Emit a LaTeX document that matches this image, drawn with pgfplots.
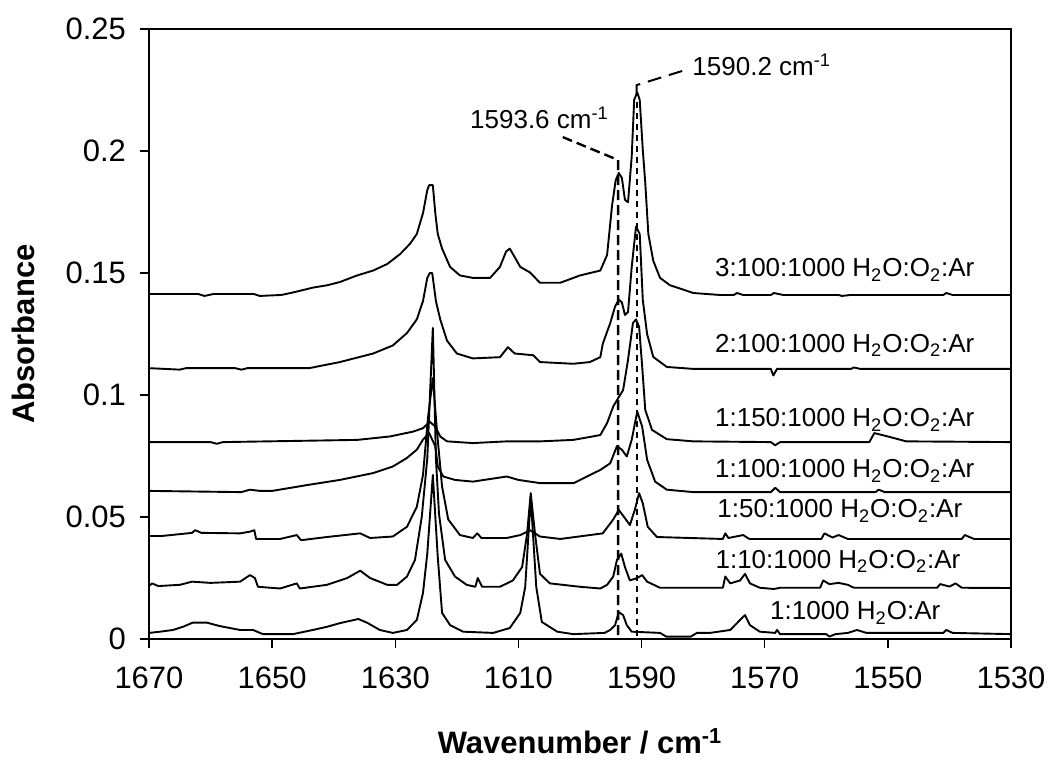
\documentclass[border=0pt]{standalone}
\usepackage{pgfplots}
\pgfplotsset{compat=1.18}
\usepackage{fontspec}
\setmainfont{Liberation Sans}
\begin{document}
\begin{tikzpicture}
\useasboundingbox (-74.5pt,-60.5pt) rectangle (449.5pt,319.5pt);
\begin{axis}[
  at={(0,0)}, anchor=south west,
  scale only axis, width=431pt, height=305pt,
  x dir=reverse, xmin=1530, xmax=1670, ymin=0, ymax=0.25,
  xtick={1530,1550,1570,1590,1610,1630,1650,1670},
  xticklabels={1530,1550,1570,1590,1610,1630,1650,1670},
  ytick={0,0.05,0.1,0.15,0.2,0.25},
  yticklabels={0,0.05,0.1,0.15,0.2,0.25},
  xtick pos=bottom, ytick pos=left,
  tick align=outside, major tick length=4.5pt,
  every tick/.style={black, line width=0.7pt},
  axis line style={line width=0.8pt},
  tick label style={font=\fontsize{15.5}{18}\selectfont},
  xticklabel style={yshift=-6pt},
  yticklabel style={xshift=-3.5pt},
  every axis y label/.style={at={(axis description cs:-0.146,0.5)}, rotate=90, anchor=center, font=\bfseries\fontsize{15.5}{18}\selectfont},
  every axis x label/.style={at={(axis description cs:0.5,-0.1885)}, anchor=base, font=\bfseries\fontsize{15.5}{18}\selectfont},
  xlabel={Wavenumber / cm\textsuperscript{-1}},
  ylabel={Absorbance},
  cycle list={{black, mark=none, solid}},
  every axis plot/.append style={line width=0.95pt, line join=round},
]
% 3:100:1000
\addplot coordinates {(1670,0.1414) (1662,0.1414) (1661,0.1406) (1659.5,0.1414) (1653,0.1414) (1652,0.1406) (1648.5,0.1410) (1647,0.1418) (1645.5,0.1427) (1643.4,0.1440) (1641,0.1450) (1639,0.1463) (1636.2,0.149) (1633.6,0.151) (1631.3,0.1537) (1629.2,0.1578) (1627.6,0.162) (1626.5,0.166) (1625.5,0.1745) (1624.8,0.184) (1624.5,0.186) (1623.9,0.186) (1623.5,0.1745) (1623.1,0.166) (1622.4,0.160) (1621.1,0.1525) (1619.5,0.149) (1617.4,0.148) (1614.6,0.148) (1613,0.1525) (1612,0.1588) (1611.4,0.160) (1610.9,0.1578) (1609.7,0.1525) (1608.1,0.1502) (1606.5,0.146) (1603.2,0.146) (1600,0.149) (1596.7,0.151) (1595.6,0.1574) (1594.8,0.1775) (1594.2,0.188) (1593.7,0.191) (1593.2,0.189) (1592.7,0.180) (1592.2,0.179) (1591.6,0.1977) (1591.2,0.221) (1590.7,0.224) (1590.3,0.221) (1589.8,0.2004) (1589.4,0.187) (1588.9,0.166) (1588.1,0.155) (1587,0.148) (1585.4,0.145) (1581.6,0.1418) (1577.3,0.141) (1575,0.141) (1574.5,0.1418) (1573.5,0.141) (1569,0.141) (1568.5,0.1418) (1567,0.141) (1558,0.141) (1557.5,0.1406) (1556,0.141) (1541,0.141) (1540.5,0.1418) (1539.5,0.141) (1530,0.141)};
% 2:100:1000
\addplot coordinates {(1670,0.111) (1665,0.1104) (1664,0.111) (1656,0.111) (1655,0.1104) (1654,0.111) (1644,0.111) (1639,0.1135) (1633.6,0.117) (1630.4,0.1203) (1628.1,0.1254) (1626.5,0.131) (1625.5,0.1385) (1624.8,0.148) (1624.4,0.150) (1624,0.150) (1623.4,0.1385) (1622.7,0.131) (1621.6,0.1223) (1620,0.117) (1617.4,0.115) (1613,0.1155) (1611.7,0.1196) (1610.6,0.117) (1607.6,0.1163) (1606.5,0.1135) (1601.1,0.1128) (1598.4,0.1135) (1596.7,0.1155) (1596.3,0.121) (1595.1,0.1294) (1594.3,0.1363) (1593.7,0.139) (1593.2,0.138) (1592.7,0.1328) (1592.2,0.134) (1591.6,0.1525) (1590.9,0.169) (1590.3,0.166) (1589.8,0.139) (1589.1,0.125) (1588.1,0.1156) (1585.9,0.1115) (1581.6,0.1107) (1569,0.1107) (1568.6,0.108) (1568,0.1107) (1556,0.1107) (1555.5,0.1113) (1554.5,0.1107) (1530,0.1107)};
% 1:150:1000
\addplot coordinates {(1670,0.0807) (1660,0.0807) (1659,0.0800) (1658,0.0807) (1636.2,0.0816) (1630.9,0.083) (1627.1,0.085) (1625.5,0.0864) (1624.4,0.089) (1623.5,0.0871) (1622.7,0.083) (1621.6,0.081) (1617.4,0.0803) (1611.9,0.081) (1606.5,0.081) (1601.1,0.0816) (1598.4,0.0828) (1596.7,0.0836) (1595.6,0.0885) (1594.6,0.0953) (1593.8,0.0987) (1593,0.102) (1592.2,0.1144) (1591.4,0.1295) (1590.9,0.131) (1590.4,0.128) (1589.9,0.1117) (1589.4,0.0939) (1588.3,0.0857) (1585.9,0.0819) (1581.6,0.081) (1569,0.0807) (1568.3,0.0794) (1567.5,0.0807) (1553,0.0807) (1552.2,0.0844) (1550,0.083) (1547,0.081) (1530,0.0807)};
% 1:100:1000
\addplot coordinates {(1670,0.0607) (1655,0.0602) (1653.6,0.0612) (1652,0.0607) (1650,0.0607) (1644.3,0.0631) (1639,0.0652) (1633.6,0.068) (1630.4,0.0707) (1628.1,0.0742) (1626.5,0.0776) (1625.5,0.0817) (1624.5,0.0844) (1623.5,0.079) (1623.1,0.0707) (1622.2,0.0666) (1620.3,0.0652) (1617.4,0.0645) (1611.9,0.0666) (1610,0.0652) (1606.5,0.0639) (1601,0.0639) (1596.7,0.0693) (1595.1,0.072) (1594,0.079) (1593.2,0.0776) (1592.4,0.0748) (1591.6,0.0817) (1590.7,0.0932) (1589.9,0.087) (1589.1,0.0735) (1587.8,0.0645) (1585.9,0.0612) (1581.6,0.0602) (1569,0.0602) (1568.3,0.0620) (1567.5,0.0602) (1552,0.0602) (1551.5,0.0612) (1550.5,0.0602) (1530,0.0602)};
% 1:50:1000
\addplot coordinates {(1670,0.0422) (1668,0.0422) (1663,0.0435) (1662.5,0.0446) (1661.5,0.0435) (1655.2,0.0433) (1653.6,0.0440) (1652.9,0.0446) (1652.6,0.041) (1648.7,0.041) (1646,0.0426) (1645.3,0.0405) (1641.1,0.0418) (1635.7,0.0433) (1634.1,0.0414) (1630.4,0.042) (1628.1,0.046) (1626.5,0.0542) (1625.5,0.0672) (1624.7,0.0904) (1623.9,0.107) (1623.2,0.0844) (1622.4,0.0625) (1621.4,0.049) (1619.5,0.0426) (1617.4,0.0414) (1616.7,0.0433) (1616,0.0414) (1611.9,0.0414) (1609.7,0.0426) (1608.1,0.0446) (1606.5,0.042) (1603.2,0.041) (1596.3,0.0433) (1594.6,0.049) (1593.7,0.0529) (1592.9,0.0502) (1591.9,0.0467) (1591.1,0.0529) (1590.4,0.0598) (1589.8,0.0556) (1589,0.046) (1587.5,0.0418) (1576.8,0.041) (1576.4,0.0433) (1575.9,0.0414) (1573.5,0.0426) (1572.5,0.041) (1560.8,0.041) (1560.3,0.0433) (1559,0.0416) (1558,0.0426) (1556.5,0.041) (1538,0.041) (1537.5,0.0426) (1536,0.041) (1530,0.041)};
% 1:10:1000
\addplot coordinates {(1670,0.0217) (1669.5,0.0228) (1668.5,0.0217) (1665,0.0222) (1663,0.0235) (1660,0.023) (1655.2,0.0235) (1653.6,0.0262) (1652.8,0.025) (1652.3,0.0214) (1648.7,0.0207) (1646,0.0228) (1645.5,0.0207) (1641.1,0.0222) (1637.8,0.025) (1635.7,0.028) (1634.1,0.025) (1631.3,0.0222) (1629.7,0.0222) (1628.1,0.0256) (1626.8,0.0324) (1625.7,0.050) (1624.8,0.074) (1623.9,0.1275) (1623.4,0.074) (1622.9,0.0513) (1621.9,0.0324) (1620.3,0.0256) (1618.4,0.0222) (1617,0.0214) (1616.6,0.025) (1615.9,0.0214) (1613,0.0214) (1610.9,0.024) (1609.4,0.0295) (1608.6,0.043) (1608,0.0598) (1607.3,0.043) (1606.5,0.0267) (1604.9,0.0228) (1600,0.0214) (1596.7,0.0207) (1595.6,0.0222) (1594.6,0.0256) (1594,0.0324) (1593.3,0.035) (1592.7,0.0295) (1591.9,0.024) (1590.7,0.025) (1589.9,0.0262) (1589.1,0.0235) (1587,0.021) (1576.8,0.021) (1576.4,0.0256) (1575.6,0.0228) (1574,0.024) (1573.2,0.0267) (1572.4,0.0228) (1570.8,0.021) (1568.5,0.0205) (1567.5,0.021) (1561,0.021) (1560.5,0.024) (1559.5,0.0225) (1558,0.023) (1556.5,0.0222) (1555.5,0.021) (1542,0.021) (1541.5,0.0225) (1540,0.0215) (1539,0.0228) (1538,0.021) (1530,0.0209)};
% 1:1000 H2O:Ar
\addplot coordinates {(1670,0.0025) (1668.2,0.003) (1666.1,0.0037) (1664.5,0.005) (1662.9,0.0067) (1660.6,0.0067) (1658.5,0.0053) (1655.2,0.0037) (1653.1,0.0037) (1651.5,0.002) (1646.6,0.002) (1643.4,0.0037) (1641.1,0.005) (1639,0.0065) (1636,0.0082) (1634.6,0.0067) (1632.5,0.0037) (1630.4,0.0025) (1628.1,0.0037) (1626.5,0.0078) (1625.5,0.0189) (1624.8,0.035) (1623.9,0.0672) (1623.1,0.0336) (1622.4,0.0107) (1621.1,0.0057) (1619,0.003) (1614.1,0.0025) (1611.4,0.0045) (1609.7,0.0107) (1608.9,0.0213) (1608,0.058) (1607.1,0.0213) (1606.2,0.007) (1603.7,0.003) (1601.1,0.002) (1596,0.0025) (1595.1,0.0037) (1594.3,0.0057) (1593.7,0.011) (1593,0.0098) (1592.4,0.0057) (1591.6,0.003) (1587,0.0025) (1586,0.001) (1582,0.001) (1581,0.0025) (1578.9,0.0025) (1575.6,0.0037) (1574,0.0078) (1573.2,0.0098) (1572.4,0.0057) (1570.8,0.003) (1568.3,0.0025) (1568,0.0037) (1567.5,0.002) (1560,0.002) (1559.5,0.001) (1558.5,0.002) (1556.5,0.0025) (1555,0.0037) (1553.5,0.0025) (1541,0.0025) (1540.5,0.0037) (1539.5,0.0025) (1530,0.002)};
% annotation lines
\draw[black, line width=1.2pt, dash pattern=on 5pt off 2.5pt] (axis cs:1602.8,0.2057) -- (axis cs:1593.8,0.1963) -- (axis cs:1593.8,0);
\draw[black, line width=1pt, dash pattern=on 7pt off 4pt] (axis cs:1583.4,0.2328) -- (axis cs:1590.8,0.2270) -- (axis cs:1590.8,0.2200);
\draw[black, line width=0.9pt, dash pattern=on 3pt off 2.5pt] (axis cs:1590.8,0.2200) -- (axis cs:1590.8,0);
% labels
\begin{scope}[every node/.style={font=\fontsize{13}{15}\selectfont, inner sep=0pt}]
\node[anchor=base west] at (axis cs:1617.9,0.2094) {1593.6 cm\textsuperscript{-1}};
\node[anchor=base west] at (axis cs:1581.8,0.2311) {1590.2 cm\textsuperscript{-1}};
\node[anchor=base] at (axis cs:1557.0,0.1484) {3:100:1000 H\textsubscript{2}O:O\textsubscript{2}:Ar};
\node[anchor=base] at (axis cs:1557.0,0.1176) {2:100:1000 H\textsubscript{2}O:O\textsubscript{2}:Ar};
\node[anchor=base] at (axis cs:1557.0,0.0869) {1:150:1000 H\textsubscript{2}O:O\textsubscript{2}:Ar};
\node[anchor=base] at (axis cs:1557.0,0.0660) {1:100:1000 H\textsubscript{2}O:O\textsubscript{2}:Ar};
\node[anchor=base] at (axis cs:1557.8,0.0496) {1:50:1000 H\textsubscript{2}O:O\textsubscript{2}:Ar};
\node[anchor=base] at (axis cs:1558.1,0.0291) {1:10:1000 H\textsubscript{2}O:O\textsubscript{2}:Ar};
\node[anchor=base] at (axis cs:1555.3,0.0078) {1:1000 H\textsubscript{2}O:Ar};
\end{scope}
\end{axis}
\end{tikzpicture}
\end{document}
